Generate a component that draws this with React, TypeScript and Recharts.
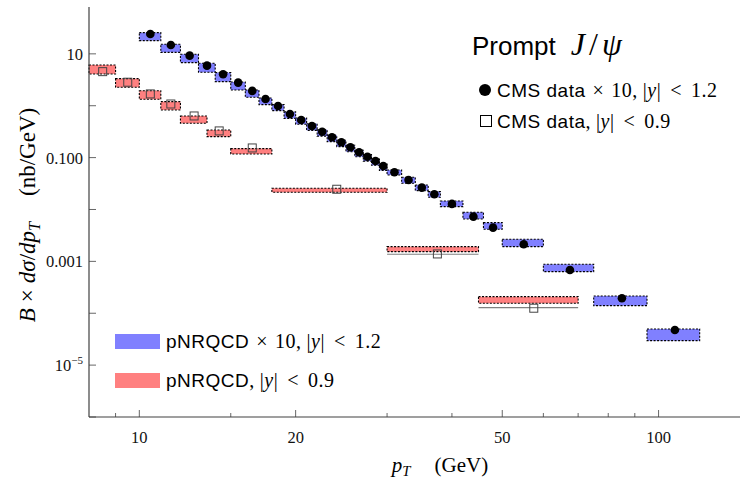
import React from 'react';
import { ComposedChart, Scatter, XAxis, YAxis, ReferenceArea, ReferenceLine } from 'recharts';

// CMS |y| < 1.2 (x10) bins and values
const blueBinLo = [10, 11, 12, 13, 14, 15, 16, 17, 18, 19, 20, 21, 22, 23, 24, 25, 26, 27, 28, 29, 30, 32, 34, 36, 38, 42, 46, 50, 60, 75, 95];
const blueBinHi = [11, 12, 13, 14, 15, 16, 17, 18, 19, 20, 21, 22, 23, 24, 25, 26, 27, 28, 29, 30, 32, 34, 36, 38, 42, 46, 50, 60, 75, 95, 120];
const bluePt = [10.5, 11.5, 12.5, 13.5, 14.5, 15.5, 16.5, 17.5, 18.5, 19.5, 20.5, 21.5, 22.5, 23.5, 24.5, 25.5, 26.5, 27.5, 28.5, 29.5, 31, 33, 35, 37, 40, 44, 48, 55, 67.5, 85, 107.5];
const blueData = [24.2, 14.8, 9.23, 5.92, 4.05, 2.79, 1.93, 1.35, 0.99, 0.695, 0.532, 0.408, 0.316, 0.247, 0.198, 0.158, 0.127, 0.104, 0.0862, 0.0691, 0.0522, 0.0371, 0.0264, 0.0197, 0.0128, 0.00728, 0.00447, 0.00214, 0.000683, 0.000195, 4.76e-5];
const blueBandHi = [25.6, 15.3, 9.82, 6.59, 4.34, 2.87, 2.01, 1.41, 1.05, 0.76, 0.58, 0.45, 0.345, 0.27, 0.216, 0.173, 0.139, 0.114, 0.094, 0.0755, 0.0578, 0.0418, 0.0297, 0.0221, 0.0146, 0.00885, 0.00557, 0.00267, 0.00088, 0.000215, 4.98e-5];
const blueBandLo = [17.97, 10.7, 6.77, 4.42, 2.91, 2.01, 1.46, 1.05, 0.804, 0.57, 0.44, 0.335, 0.26, 0.203, 0.163, 0.13, 0.104, 0.0855, 0.071, 0.0567, 0.0463, 0.032, 0.0231, 0.0172, 0.01135, 0.00657, 0.00416, 0.00192, 0.000633, 0.00014, 2.96e-5];

// CMS |y| < 0.9 bins and values
const redBinLo = [8, 9, 10, 11, 12, 13.5, 15, 18, 30, 45];
const redBinHi = [9, 10, 11, 12, 13.5, 15, 18, 30, 45, 70];
const redPt = [8.5, 9.5, 10.5, 11.5, 12.75, 14.25, 16.5, 24, 37.5, 57.5];
const redData = [4.54, 2.84, 1.69, 1.08, 0.635, 0.327, 0.1535, 0.02455, 0.00139, 0.000125];
const redBandHi = [6.11, 3.33, 1.95, 1.2, 0.635, 0.341, 0.149, 0.02567, 0.00192, 0.000209];
const redBandLo = [4.1, 2.27, 1.33, 0.829, 0.46, 0.2535, 0.1177, 0.0215, 0.00154, 0.000156];
const redAltBins = [8, 9];
const redAltVal = [0.00137, 0.000128];

const xMajor = [10, 20, 50, 100];
const xMinor = [9, 15, 30, 40, 60, 70, 80, 90];
const yLabelled = [10, 0.1, 0.001, 1e-5];
const yAll = [1e-6, 1e-5, 1e-4, 0.001, 0.01, 0.1, 1, 10];

const SERIF = '"Liberation Serif", "DejaVu Serif", serif';
const SANS = '"Liberation Sans", "DejaVu Sans", sans-serif';
const AXIS = '#404040';
const BLUE = '#8080ff';
const RED = '#ff8080';

const blueRows = bluePt.map((x, i) => ({ x, y: blueData[i] }));
const redRows = redPt.map((x, i) => ({ x, y: redData[i] }));

const BOTTOM_GAP = 12;
const LEFT_GAP = 6;

const BottomTick = (props: any) => {
  const { x, y, payload } = props;
  const axisY = y - BOTTOM_GAP;
  const major = xMajor.includes(payload.value);
  return <g>
      <line x1={x} x2={x} y1={axisY} y2={axisY - (major ? 7 : 4)} stroke={AXIS} strokeWidth={0.8} />
      {major && <text x={x} y={axisY + 26} textAnchor="middle" fontFamily={SERIF} fontSize={16.5} fill="#111">{payload.value}</text>}
    </g>;
};

const TopTick = (props: any) => {
  const { x, y, payload } = props;
  const major = xMajor.includes(payload.value);
  return <line x1={x} x2={x} y1={y} y2={y + (major ? 7 : 4)} stroke={AXIS} strokeWidth={0.8} />;
};

const yText = (v: number) => {
  if (v === 10) return <tspan>10</tspan>;
  if (v === 0.1) return <tspan>0.100</tspan>;
  if (v === 0.001) return <tspan>0.001</tspan>;
  return <>
      <tspan>10</tspan>
      <tspan dy={-7} fontSize={11}>−5</tspan>
    </>;
};

const LeftTick = (props: any) => {
  const { x, y, payload } = props;
  const axisX = x + LEFT_GAP;
  const labelled = yLabelled.includes(payload.value);
  return <g>
      <line x1={axisX} x2={axisX + 7} y1={y} y2={y} stroke={AXIS} strokeWidth={0.8} />
      {labelled && <text x={axisX - 6} y={y + 6} textAnchor="end" fontFamily={SERIF} fontSize={16.5} fill="#111">{yText(payload.value)}</text>}
    </g>;
};

const Dot = (props: any) => <circle cx={props.cx} cy={props.cy} r={4.3} fill="#000" />;
const OpenSquare = (props: any) => <rect x={props.cx - 4} y={props.cy - 4} width={8} height={8} fill="none" stroke="#444" strokeWidth={1} />;

const sub = (t: string) => <span style={{ fontSize: '0.7em', position: 'relative', top: '0.3em' }}><i>{t}</i></span>;
const op = (t: string, g = 8) => <span style={{ margin: `0 ${g}px` }}>{t}</span>;

// math tail of a legend entry, e.g. "× 10, |y| < 1.2"
const MathTail = ({ times, bound }: { times: boolean; bound: string }) => <span style={{ fontFamily: SERIF, fontSize: 20 }}>
    {times ? <>{op('×', 7)}10,</> : <>,</>}
    <span style={{ marginLeft: 5 }}>|<i>y</i>|</span>
    {op('<', 9)}{bound}
  </span>;

const App = () => {
  return <div style={{ position: 'absolute', left: 0, top: 0, width: 740, height: 478, overflow: 'hidden', background: '#fff' }}>
      <ComposedChart width={760} height={478} margin={{ top: 7, right: 10, bottom: 0, left: 0 }}>
        <XAxis xAxisId="x" dataKey="x" type="number" scale="log" domain={[8, 150]} allowDataOverflow ticks={[...xMajor, ...xMinor].sort((a, b) => a - b)} interval={0} tickSize={0} tickMargin={BOTTOM_GAP} tickLine={false} axisLine={{ stroke: AXIS, strokeWidth: 1.2 }} tick={<BottomTick />} height={61} />
        <XAxis xAxisId="top" orientation="top" type="number" scale="log" domain={[8, 150]} allowDataOverflow ticks={[...xMajor, ...xMinor].sort((a, b) => a - b)} interval={0} tickSize={0} tickMargin={0} tickLine={false} axisLine={{ stroke: AXIS, strokeWidth: 1.2 }} tick={<TopTick />} height={0} />
        <YAxis yAxisId="y" type="number" scale="log" domain={[1e-6, 80]} allowDataOverflow ticks={yAll} interval={0} tickSize={0} tickMargin={LEFT_GAP} tickLine={false} axisLine={{ stroke: AXIS, strokeWidth: 1.2 }} tick={<LeftTick />} width={89} />

        {blueBinLo.map((lo, i) => <ReferenceArea key={'b' + i} xAxisId="x" yAxisId="y" x1={lo} x2={blueBinHi[i]} y1={blueBandLo[i]} y2={blueBandHi[i]} fill={BLUE} fillOpacity={1} stroke="#000" strokeWidth={1.1} strokeDasharray="2 1.5" ifOverflow="visible" />)}
        {redBinLo.map((lo, i) => <ReferenceArea key={'r' + i} xAxisId="x" yAxisId="y" x1={lo} x2={redBinHi[i]} y1={redBandLo[i]} y2={redBandHi[i]} fill={RED} fillOpacity={1} stroke="#000" strokeWidth={1.1} strokeDasharray="2 1.5" ifOverflow="visible" />)}
        {redAltBins.map((b, i) => <ReferenceLine key={'g' + i} xAxisId="x" yAxisId="y" segment={[{ x: redBinLo[b], y: redAltVal[i] }, { x: redBinHi[b], y: redAltVal[i] }]} stroke="#808080" strokeWidth={1.2} />)}

        <Scatter xAxisId="x" yAxisId="y" data={redRows} dataKey="y" shape={<OpenSquare />} isAnimationActive={false} />
        <Scatter xAxisId="x" yAxisId="y" data={blueRows} dataKey="y" shape={<Dot />} isAnimationActive={false} />
      </ComposedChart>

      <div style={{ position: 'absolute', left: 0, top: 0, width: 740, height: 478, pointerEvents: 'none', color: '#000' }}>
        <div style={{ position: 'absolute', left: 472, top: 27, fontFamily: SANS, fontSize: 26, lineHeight: '34px', whiteSpace: 'nowrap' }}>
          Prompt
          <span style={{ fontFamily: SERIF, fontSize: 32, marginLeft: 15 }}>
            <i>J</i><span style={{ margin: '0 4px' }}>/</span><i>ψ</i>
          </span>
        </div>
        <div style={{ position: 'absolute', left: 479, top: 84, width: 12, height: 12, borderRadius: 6, background: '#000' }} />
        <div style={{ position: 'absolute', left: 497, top: 79, fontFamily: SANS, fontSize: 19, letterSpacing: 0.5, lineHeight: '22px', whiteSpace: 'nowrap' }}>
          CMS data<MathTail times bound="1.2" />
        </div>
        <div style={{ position: 'absolute', left: 480, top: 115, width: 10, height: 10, border: '1px solid #000' }} />
        <div style={{ position: 'absolute', left: 497, top: 110, fontFamily: SANS, fontSize: 19, letterSpacing: 0.5, lineHeight: '22px', whiteSpace: 'nowrap' }}>
          CMS data<MathTail times={false} bound="0.9" />
        </div>

        <div style={{ position: 'absolute', left: 115, top: 334, width: 45, height: 15, background: BLUE }} />
        <div style={{ position: 'absolute', left: 166, top: 330, fontFamily: SANS, fontSize: 19, letterSpacing: 0.5, lineHeight: '22px', whiteSpace: 'nowrap' }}>
          pNRQCD<MathTail times bound="1.2" />
        </div>
        <div style={{ position: 'absolute', left: 115, top: 373, width: 45, height: 15, background: RED }} />
        <div style={{ position: 'absolute', left: 166, top: 369, fontFamily: SANS, fontSize: 19, letterSpacing: 0.5, lineHeight: '22px', whiteSpace: 'nowrap' }}>
          pNRQCD<MathTail times={false} bound="0.9" />
        </div>

        <div style={{ position: 'absolute', left: 28, top: 215, transform: 'translate(-50%, -50%) rotate(-90deg)', fontFamily: SERIF, fontSize: 23, whiteSpace: 'nowrap' }}>
          <i>B</i>{op('×', 6)}<i>dσ</i>/<i>dp</i>{sub('T')}<span style={{ marginLeft: 26 }}>(nb/GeV)</span>
        </div>
        <div style={{ position: 'absolute', left: 440, top: 465, transform: 'translate(-50%, -50%)', fontFamily: SERIF, fontSize: 21, whiteSpace: 'nowrap' }}>
          <i>p</i>{sub('T')}<span style={{ marginLeft: 24 }}>(GeV)</span>
        </div>
      </div>
    </div>;
};

export default App;
